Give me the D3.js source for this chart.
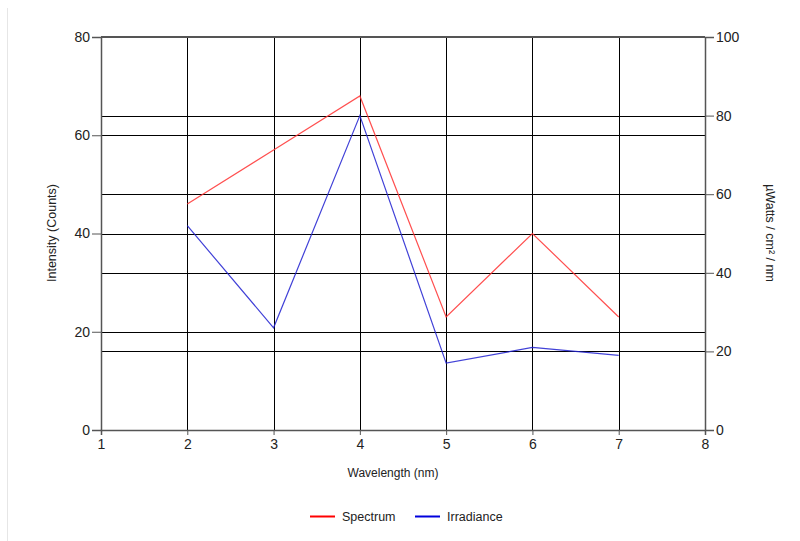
<!DOCTYPE html>
<html><head><meta charset="utf-8">
<script src="https://cdn.jsdelivr.net/npm/d3@7"></script>
<style>body{margin:0;background:#fff}text{font-family:"Liberation Sans",Arial,sans-serif;fill:#222}</style>
</head><body><svg id="c" width="800" height="541"></svg>
<script>
const wavelengths = [2, 3, 4, 5, 6, 7];
const spectrum = [46, 57, 68, 23, 40, 23];
const irradiance = [52, 26, 80, 17, 21, 19];
const xTicks = [1, 2, 3, 4, 5, 6, 7, 8];
const leftTicks = [0, 20, 40, 60, 80];
const rightTicks = [0, 20, 40, 60, 80, 100];

const svg = d3.select("#c");
const L = 101, R = 705, T = 37, B = 430;
const x = d3.scaleLinear().domain([1, 8]).range([L, R]);
const yL = d3.scaleLinear().domain([0, 80]).range([B, T]);
const yR = d3.scaleLinear().domain([0, 100]).range([B, T]);

svg.append("line").attr("x1",7.5).attr("x2",7.5).attr("y1",8).attr("y2",541).attr("stroke","#e6e6e6");

const g = svg.append("g");
g.selectAll(".gx").data(xTicks).enter().append("line")
  .attr("x1",d=>Math.round(x(d))+0.5).attr("x2",d=>Math.round(x(d))+0.5)
  .attr("y1",T).attr("y2",B).attr("stroke","#000");
g.selectAll(".gl").data(leftTicks).enter().append("line")
  .attr("x1",L).attr("x2",R).attr("y1",d=>Math.round(yL(d))+0.5).attr("y2",d=>Math.round(yL(d))+0.5).attr("stroke","#000");
g.selectAll(".gr").data(rightTicks).enter().append("line")
  .attr("x1",L).attr("x2",R).attr("y1",d=>Math.round(yR(d))+0.5).attr("y2",d=>Math.round(yR(d))+0.5).attr("stroke","#000");

const fmt = d3.format("d");
const ax = svg.append("g").attr("transform",`translate(0,${B})`)
  .call(d3.axisBottom(x).tickValues(xTicks).tickFormat(fmt).tickSize(5).tickPadding(4));
const al = svg.append("g").attr("transform",`translate(${L},0)`)
  .call(d3.axisLeft(yL).tickValues(leftTicks).tickFormat(fmt).tickSize(9).tickPadding(2));
const ar = svg.append("g").attr("transform",`translate(${R},0)`)
  .call(d3.axisRight(yR).tickValues(rightTicks).tickFormat(fmt).tickSize(9).tickPadding(2));
[ax, al, ar].forEach(a => {
  a.select(".domain").attr("stroke","#555").attr("stroke-width",1.5);
  a.selectAll(".tick line").attr("stroke","#555");
  a.selectAll("text").style("font-size","14px").attr("fill","#222").style("font-family","'Liberation Sans',Arial,sans-serif");
});
svg.append("line").attr("x1",L).attr("x2",R).attr("y1",T).attr("y2",T).attr("stroke","#555").attr("stroke-width",2);

const pts = (vals) => wavelengths.map((w,i)=>[w, vals[i]]);
svg.append("path").datum(pts(spectrum))
  .attr("d", d3.line().x(d=>x(d[0])).y(d=>yL(d[1])))
  .attr("fill","none").attr("stroke","#ff3030").attr("stroke-opacity",0.85).attr("stroke-width",1.2);
svg.append("path").datum(pts(irradiance))
  .attr("d", d3.line().x(d=>x(d[0])).y(d=>yR(d[1])))
  .attr("fill","none").attr("stroke","#2020d0").attr("stroke-opacity",0.85).attr("stroke-width",1.2);

svg.append("text").attr("x",393).attr("y",477).attr("text-anchor","middle").style("font-size","12px").text("Wavelength (nm)");
svg.append("text").attr("transform","translate(56,233) rotate(-90)").attr("text-anchor","middle").style("font-size","12.5px").text("Intensity (Counts)");
svg.append("text").attr("transform","translate(766,233) rotate(90)").attr("text-anchor","middle").style("font-size","12.5px").text("µWatts / cm² / nm");

const legend = [["Spectrum","#ff0000",310],["Irradiance","#0000dd",415]];
legend.forEach(([name,col,lx])=>{
  svg.append("line").attr("x1",lx).attr("x2",lx+25).attr("y1",516.5).attr("y2",516.5).attr("stroke",col).attr("stroke-width",2);
  svg.append("text").attr("x",lx+32).attr("y",521).style("font-size","12.5px").text(name);
});
</script></body></html>
